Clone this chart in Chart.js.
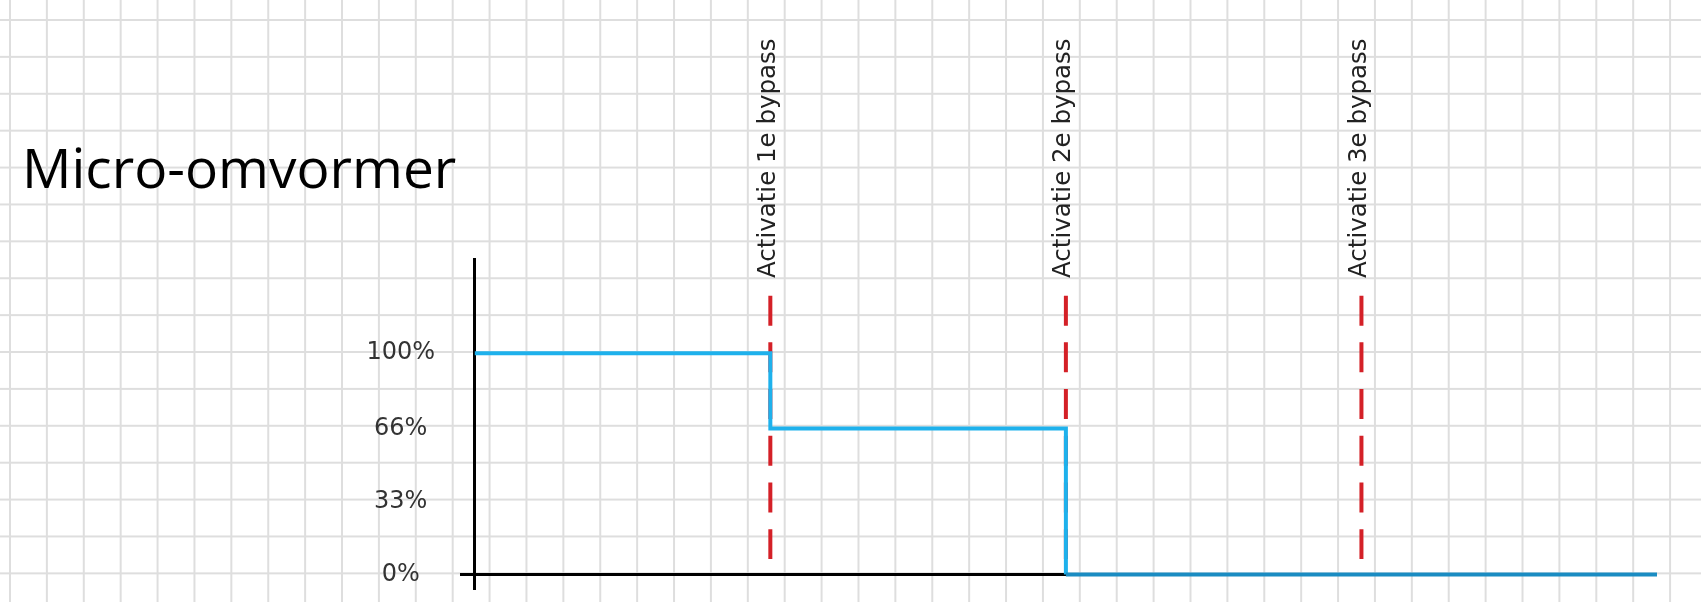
<!DOCTYPE html>
<html>
<head>
<meta charset="utf-8">
<script src="https://cdn.jsdelivr.net/npm/chart.js@4"></script>
<style>
	html, body { margin: 0; padding: 0; }
	body {
		width: 1701px;
		height: 602px;
		overflow: hidden;
		background-color: #ffffff;
		/* spreadsheet cells behind the chart */
		background-image:
			linear-gradient(to right, #dedede 2px, transparent 2px),
			linear-gradient(to bottom, #dedede 2px, transparent 2px);
		background-size: 36.9px 36.9px;
		background-position: 9px 19px;
	}
	#wrap { position: absolute; left: 0; top: 0; width: 1701px; height: 602px; }
</style>
</head>
<body>
<div id="wrap"><canvas id="chart"></canvas></div>
<script>
const title_text = 'Micro-omvormer';

// power of the micro inverter (in %) over time, bypass moments at 1, 2, 3
const power_x = [0, 1, 2, 4];
const power_y = [100, 66, 0, 0];

const y_ticks = [0, 33, 66, 100];

const bypass_x = [1, 2, 3];
const bypass_labels = ['Activatie 1e bypass', 'Activatie 2e bypass', 'Activatie 3e bypass'];
const bypass_top = 126;
const bypass_bottom = 7;

const BLUE = '#1eb1ec';
const BLUE_ON_AXIS = '#1a8cc2';
const RED = '#d42027';

const to_points = (xs, ys) => xs.map((x, i) => ({ x: x, y: ys[i] }));

const datasets = [
	{
		data: to_points(power_x, power_y),
		stepped: 'before',
		borderColor: BLUE,
		borderWidth: 4,
		pointRadius: 0,
		segment: {
			// the last part lies on the black axis and looks darker
			borderColor: (ctx) => (ctx.p0.parsed.y === 0 && ctx.p1.parsed.y === 0) ? BLUE_ON_AXIS : undefined
		}
	}
];

for (let i = 0; i < bypass_x.length; i++) {
	datasets.push({
		data: to_points([bypass_x[i], bypass_x[i]], [bypass_top, bypass_bottom]),
		borderColor: RED,
		borderWidth: 4,
		borderDash: [30, 16.7],
		borderCapStyle: 'butt',
		pointRadius: 0
	});
}

const only_zero = (ctx) => (ctx.tick && ctx.tick.value === 0) ? '#000000' : 'rgba(0,0,0,0)';

new Chart(document.getElementById('chart'), {
	type: 'line',
	data: { datasets: datasets },
	options: {
		responsive: true,
		maintainAspectRatio: false,
		animation: false,
		layout: { padding: { left: 22, right: 44, top: 0, bottom: 12 } },
		plugins: {
			legend: { display: false },
			tooltip: { enabled: false },
			title: {
				display: true,
				text: title_text,
				align: 'start',
				color: '#000000',
				font: { family: 'Open Sans', size: 55, weight: 'normal', lineHeight: 1.2 },
				padding: { top: 139, bottom: 0 }
			}
		},
		scales: {
			x: {
				type: 'linear',
				position: 'bottom',
				min: -0.05,
				max: 4,
				afterBuildTicks: (scale) => { scale.ticks = [{ value: 0 }]; },
				afterFit: (scale) => { scale.height = 0; },
				ticks: { display: false },
				border: { display: false },
				grid: { color: only_zero, lineWidth: 3, drawTicks: false }
			},
			xTop: {
				type: 'linear',
				position: 'top',
				min: -0.05,
				max: 4,
				afterBuildTicks: (scale) => { scale.ticks = bypass_x.map(v => ({ value: v })); },
				afterFit: (scale) => { scale.height = 53; },
				border: { display: false },
				grid: { display: false, drawTicks: false },
				ticks: {
					autoSkip: false,
					mirror: true,
					minRotation: 90,
					maxRotation: 90,
					padding: 20,
					labelOffset: -2,
					color: '#222222',
					font: { family: 'DejaVu Sans', size: 24.5 },
					callback: (value, index) => bypass_labels[index]
				}
			},
			y: {
				type: 'linear',
				position: 'left',
				min: -7,
				max: 143,
				afterBuildTicks: (scale) => { scale.ticks = y_ticks.map(v => ({ value: v })); },
				afterFit: (scale) => {
					scale.width = 438;
					scale.paddingTop = 0;
					scale.paddingBottom = 0;
				},
				border: { display: false },
				grid: { color: only_zero, lineWidth: 3, drawTicks: false },
				ticks: {
					crossAlign: 'center',
					padding: 25,
					color: '#333333',
					font: { family: 'DejaVu Sans', size: 24 },
					callback: (value) => value + '%'
				}
			}
		}
	}
});
</script>
</body>
</html>
